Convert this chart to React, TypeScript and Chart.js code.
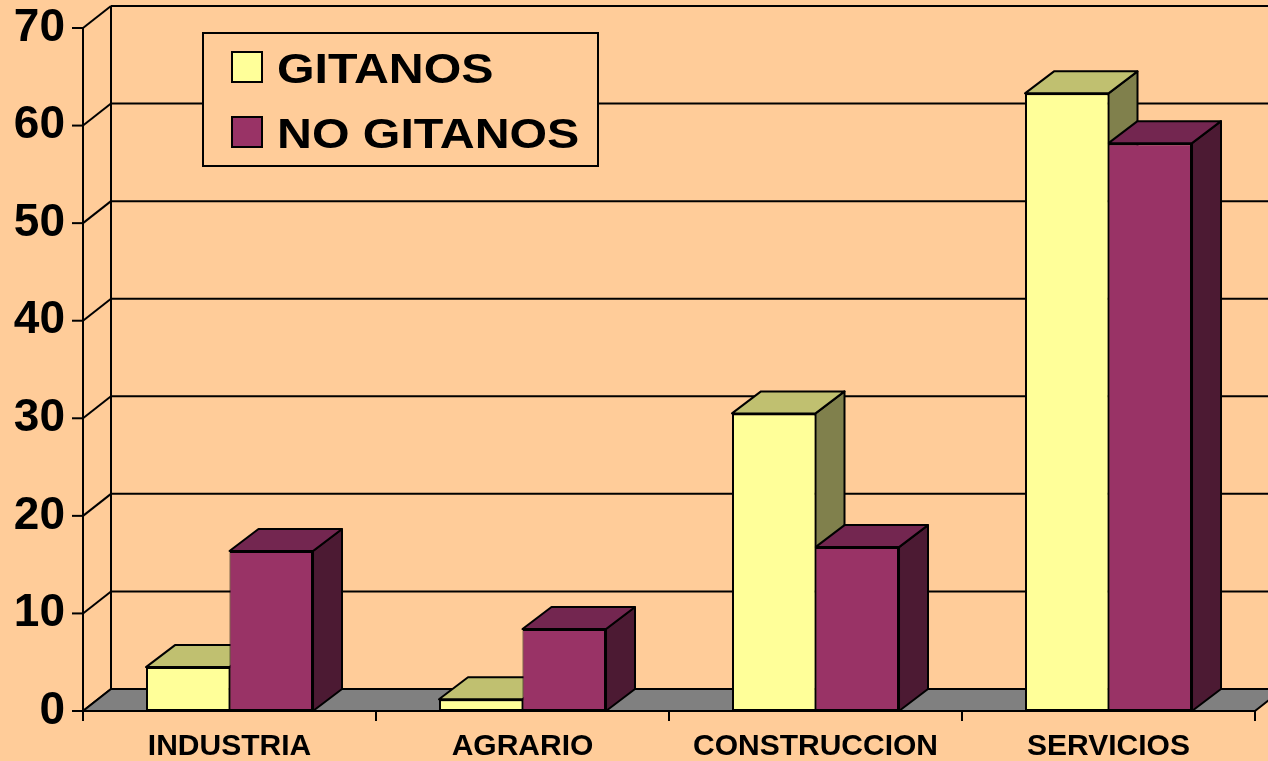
import React, { useEffect, useRef } from "react";
import { Chart, registerables } from "chart.js";

Chart.register(...registerables);

const categories = ["INDUSTRIA", "AGRARIO", "CONSTRUCCION", "SERVICIOS"];
const seriesLabels = ["GITANOS", "NO GITANOS"];
const gitanos = [4.5, 1.2, 30.5, 63.3];
const noGitanos = [16.4, 8.4, 16.8, 58.2];
const yMin = 0;
const yMax = 70;
const yStep = 10;

const frontColors = ["#FFFF99", "#993366"];
const topColors = ["#C0C070", "#732650"];
const sideColors = ["#80804C", "#4C1A33"];
const BG = "#FFCC99";
const FLOOR = "#808080";
const FONT = "'Liberation Sans', Arial, Helvetica, sans-serif";

const WDX = 28; // wall depth offset
const WDY = 22;
const BDX = 29; // bar depth offset
const BDY = 22;

function poly(ctx: CanvasRenderingContext2D, pts: number[][], fill?: string) {
  ctx.beginPath();
  ctx.moveTo(pts[0][0], pts[0][1]);
  for (let i = 1; i < pts.length; i++) ctx.lineTo(pts[i][0], pts[i][1]);
  ctx.closePath();
  if (fill) {
    ctx.fillStyle = fill;
    ctx.fill();
  }
  ctx.stroke();
}

function line(ctx: CanvasRenderingContext2D, x1: number, y1: number, x2: number, y2: number) {
  ctx.beginPath();
  ctx.moveTo(x1, y1);
  ctx.lineTo(x2, y2);
  ctx.stroke();
}

function noPad(s: any) {
  s.paddingTop = 0;
  s.paddingBottom = 0;
  s.paddingLeft = 0;
  s.paddingRight = 0;
}

const threeD = {
  id: "threeD",
  beforeDraw(chart: any) {
    const { ctx, width, height } = chart;
    ctx.save();
    ctx.fillStyle = BG;
    ctx.fillRect(0, 0, width, height);
    ctx.restore();
  },
  beforeDatasetsDraw(chart: any) {
    const { ctx, chartArea, scales } = chart;
    const { left, right, top, bottom } = chartArea;
    const y = scales.y;
    ctx.save();
    ctx.lineWidth = 2;
    ctx.strokeStyle = "#000";
    ctx.lineJoin = "round";

    // back wall grid lines, left wall diagonals, tick marks
    y.ticks.forEach((t: any) => {
      const py = y.getPixelForValue(t.value);
      line(ctx, left + WDX, py - WDY, right + WDX, py - WDY);
      line(ctx, left, py, left + WDX, py - WDY);
      line(ctx, left - 11, py, left, py);
    });
    // back vertical line
    line(ctx, left + WDX, y.getPixelForValue(yMax) - WDY, left + WDX, y.getPixelForValue(yMin) - WDY);

    // floor
    const y0 = y.getPixelForValue(0);
    poly(ctx, [
      [left, y0],
      [right, y0],
      [right + WDX, y0 - WDY],
      [left + WDX, y0 - WDY],
    ], FLOOR);

    // front axis line
    line(ctx, left, top, left, bottom + 10);

    // category tick marks
    const n = categories.length;
    const cw = (right - left) / n;
    for (let i = 0; i <= n; i++) {
      const px = left + i * cw;
      line(ctx, px, bottom, px, bottom + 10);
    }

    // bar tops and sides
    for (let i = 0; i < n; i++) {
      for (let d = 0; d < chart.data.datasets.length; d++) {
        const meta = chart.getDatasetMeta(d);
        const el = meta.data[i];
        if (!el) continue;
        const p = el.getProps(["x", "y", "base", "width"], true);
        const l = p.x - p.width / 2;
        const r = p.x + p.width / 2;
        const ty = p.y;
        const by = p.base;
        poly(ctx, [
          [r, ty],
          [r + BDX, ty - BDY],
          [r + BDX, by - BDY],
          [r, by],
        ], sideColors[d]);
        poly(ctx, [
          [l, ty],
          [r, ty],
          [r + BDX, ty - BDY],
          [l + BDX, ty - BDY],
        ], topColors[d]);
      }
    }
    ctx.restore();
  },
  afterDraw(chart: any) {
    const { ctx } = chart;
    ctx.save();
    ctx.lineWidth = 2;
    ctx.strokeStyle = "#000";
    // legend box
    ctx.fillStyle = BG;
    ctx.fillRect(203, 33, 395, 133);
    ctx.strokeRect(203, 33, 395, 133);
    const rows = [
      { sy: 52, base: 83 },
      { sy: 117, base: 148 },
    ];
    seriesLabels.forEach((lab, k) => {
      const r = rows[k];
      ctx.fillStyle = frontColors[k];
      ctx.fillRect(232, r.sy, 30, 30);
      ctx.strokeRect(232, r.sy, 30, 30);
      ctx.save();
      ctx.translate(277, r.base);
      ctx.scale(1.15, 1);
      ctx.font = `bold 42px ${FONT}`;
      ctx.fillStyle = "#000";
      ctx.textBaseline = "alphabetic";
      ctx.textAlign = "left";
      ctx.fillText(lab, 0, 0);
      ctx.restore();
    });
    ctx.restore();
  },
};

export default function App() {
  const ref = useRef<HTMLCanvasElement | null>(null);
  useEffect(() => {
    if (!ref.current) return;
    const chart = new Chart(ref.current, {
      type: "bar",
      data: {
        labels: categories,
        datasets: [
          {
            label: seriesLabels[0],
            data: gitanos,
            backgroundColor: frontColors[0],
            borderColor: "#000",
            borderWidth: { top: 2, left: 2, bottom: 2, right: 1 },
            borderSkipped: false,
            categoryPercentage: 0.57,
            barPercentage: 1.0,
          },
          {
            label: seriesLabels[1],
            data: noGitanos,
            backgroundColor: frontColors[1],
            borderColor: "#000",
            borderWidth: { top: 2, left: 1, bottom: 2, right: 2 },
            borderSkipped: false,
            categoryPercentage: 0.57,
            barPercentage: 1.0,
          },
        ],
      },
      options: {
        animation: false,
        responsive: false,
        devicePixelRatio: 1,
        layout: { padding: { top: 28, right: 13, left: 0, bottom: 0 } },
        plugins: {
          legend: { display: false },
          tooltip: { enabled: false },
        },
        scales: {
          x: {
            grid: { display: false, drawTicks: false },
            border: { display: false },
            ticks: {
              color: "#000",
              font: { family: FONT, size: 30, weight: "bold" },
              padding: 18,
              maxRotation: 0,
              autoSkip: false,
            },
            afterFit: (s: any) => {
              s.height = 50;
              noPad(s);
            },
          },
          y: {
            min: yMin,
            max: yMax,
            grid: { display: false, drawTicks: false },
            border: { display: false },
            ticks: {
              stepSize: yStep,
              color: "#000",
              font: { family: FONT, size: 46, weight: "bold" },
              padding: 18,
            },
            afterFit: (s: any) => {
              s.width = 83;
              noPad(s);
            },
          },
        },
      },
      plugins: [threeD],
    });
    return () => chart.destroy();
  }, []);
  return (
    <div style={{ position: "absolute", left: 0, top: 0, width: 1268, height: 761, background: BG }}>
      <canvas ref={ref} width={1268} height={761} style={{ display: "block" }} />
    </div>
  );
}
